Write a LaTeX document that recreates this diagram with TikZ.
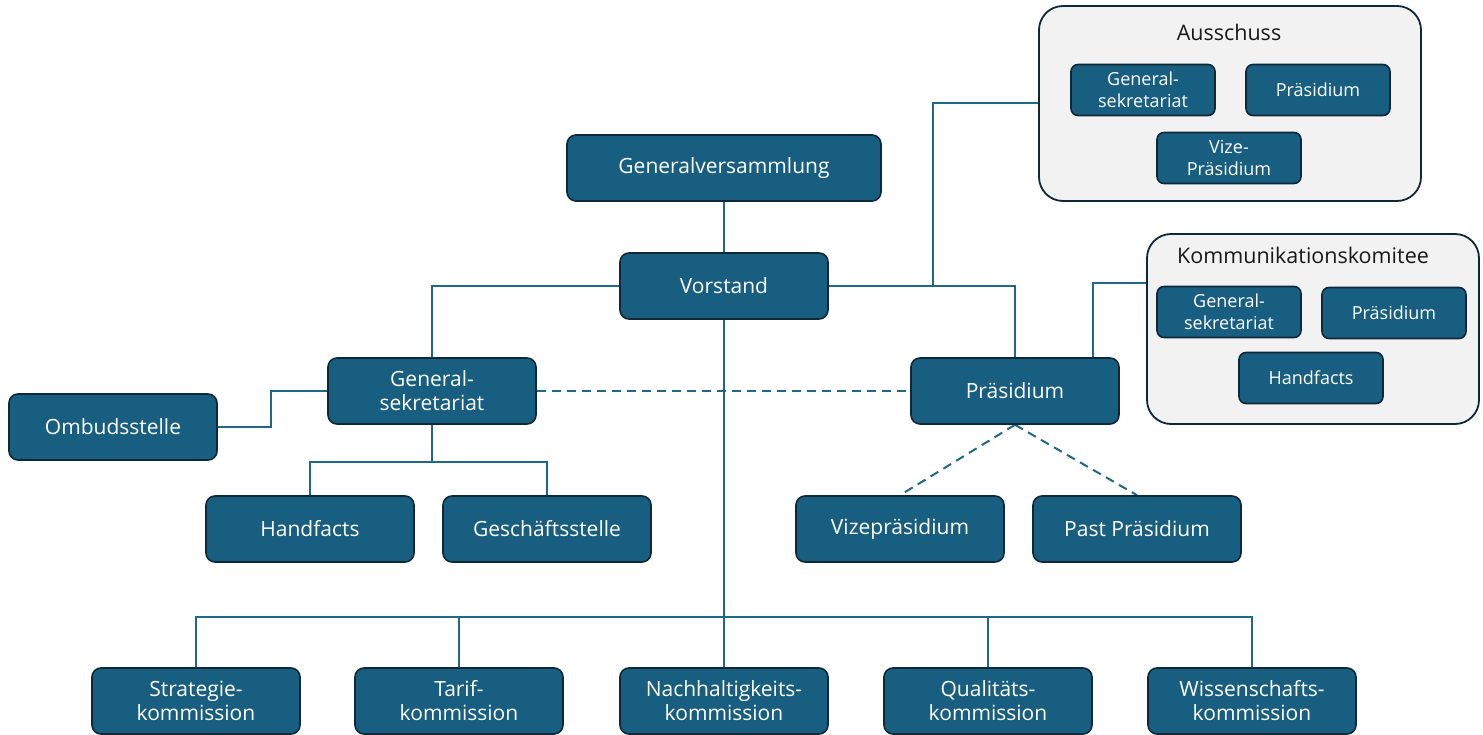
\documentclass[tikz,border=0pt]{standalone}
\usepackage{fontspec}
\setmainfont{Open Sans}
\usetikzlibrary{backgrounds, calc, positioning}
\definecolor{orgblue}{RGB}{24,94,128}
\definecolor{orgedge}{RGB}{14,40,56}
\definecolor{orgwire}{RGB}{31,104,138}
\definecolor{orggrey}{RGB}{242,242,242}
\tikzset{
  orgbox/.style={rectangle, draw=orgedge, fill=orgblue, line width=1.6pt, rounded corners=9pt,
    minimum width=208pt, minimum height=66pt, inner sep=2pt, text=white, align=center,
    font=\fontsize{21}{24}\selectfont},
  orgsmall/.style={orgbox, minimum width=144pt, minimum height=51pt, rounded corners=7pt,
    font=\fontsize{18}{22.5}\selectfont},
  orgframe/.style={rectangle, draw=orgedge, fill=orggrey, line width=1.8pt, rounded corners=24pt},
  orgtitle/.style={text=black!90, font=\fontsize{21.5}{24}\selectfont, inner sep=0pt},
  orglink/.style={draw=orgwire, line width=2pt},
  orgdash/.style={orglink, dash pattern=on 9pt off 6pt},
}

\begin{document}
\begin{tikzpicture}[x=1pt, y=-1pt]
  \useasboundingbox (0,0) rectangle (1483,735);

  % Main chain.
  \node[orgbox, minimum width=314pt] (gv) at (724,168) {Generalversammlung};
  \node[orgbox] (vorstand) at (724,286) {Vorstand};
  \node[orgbox] (gensek) at (432,391) {General-\\sekretariat};
  \node[orgbox] (ombud) at (113,427) {Ombudsstelle};
  \node[orgbox] (hand) at (310,529) {Handfacts};
  \node[orgbox] (gst) at (547,529) {Geschäftsstelle};
  \node[orgbox] (praes) at (1015,391) {Präsidium};
  \node[orgbox] (vize) at (900,529) {Vizepräsidium};
  \node[orgbox] (past) at (1137,529) {Past Präsidium};

  % Commissions.
  \node[orgbox] (strat) at (196,701) {Strategie-\\kommission};
  \node[orgbox] (tarif) at (459,701) {Tarif-\\kommission};
  \node[orgbox] (nach) at (724,701) {Nachhaltigkeits-\\kommission};
  \node[orgbox] (qual) at (988,701) {Qualitäts-\\kommission};
  \node[orgbox] (wiss) at (1252,701) {Wissenschafts-\\kommission};

  % Committees.
  \node[orgframe, minimum width=382pt, minimum height=195pt] (aussch) at (1230,103.5) {};
  \node[orgtitle] (ausschtitle) at (1229,32) {Ausschuss};
  \node[orgsmall] (agensek) at (1143,90) {General-\\sekretariat};
  \node[orgsmall] (apraes) at (1318,90) {Präsidium};
  \node[orgsmall] (avize) at (1229,158) {Vize-\\Präsidium};

  \node[orgframe, minimum width=332pt, minimum height=190pt] (komm) at (1313,329) {};
  \node[orgtitle] (kommtitle) at (1303,255) {Kommunikationskomitee};
  \node[orgsmall] (kgensek) at (1229,312) {General-\\sekretariat};
  \node[orgsmall] (kpraes) at (1394,313) {Präsidium};
  \node[orgsmall] (khand) at (1311,378) {Handfacts};

  % Connectors.
  \coordinate (gbus) at ($(gensek.south)+(0,37)$);
  \coordinate (vbus) at ($(vorstand.south)+(0,297)$);
  \coordinate (ajoin) at ($(vorstand.east)!0.56!(vorstand.east -| praes.north)$);
  \coordinate (kjoin) at ($(praes.north west)!0.87!(praes.north east)$);
  \coordinate (kport) at ($(komm.north west)!0.26!(komm.south west)$);
  \begin{scope}[on background layer]
    \draw[orglink] (gv) -- (vorstand);
    \draw[orglink] (vorstand.west) -| (gensek.north);
    \draw[orglink] (vorstand.east) -| (praes.north);
    \draw[orglink] (ajoin) |- (aussch.west);
    \draw[orglink] (kjoin) |- (kport);
    \draw[orglink] (gensek.west) -- ++(-56,0) |- (ombud.east);
    \draw[orglink] (gensek.south) -- (gbus);
    \draw[orglink] (gbus) -| (hand.north);
    \draw[orglink] (gbus) -| (gst.north);
    \draw[orglink] (vorstand.south) -- (vbus);
    \foreach \k in {strat, tarif, nach, qual, wiss}
      \draw[orglink] (vbus) -| (\k.north);
    \draw[orgdash] (gensek.east) -- (praes.west);
    \draw[orgdash] (praes.south) -- (vize.north);
    \draw[orgdash] (praes.south) -- (past.north);
  \end{scope}
\end{tikzpicture}
\end{document}
